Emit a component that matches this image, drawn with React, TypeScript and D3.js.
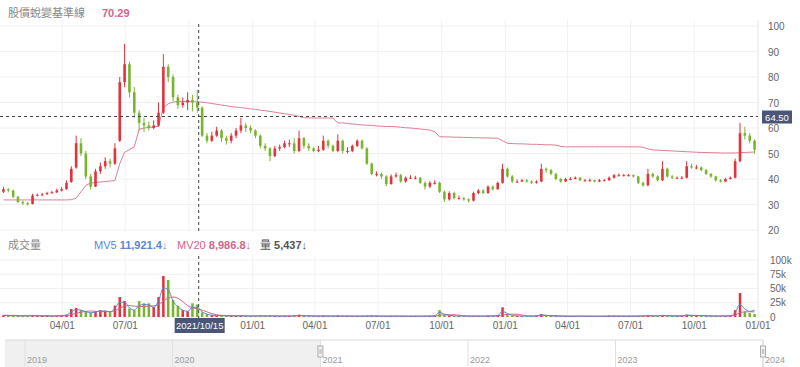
import React from 'react';
import * as d3 from 'd3';

// ---- data (weekly) ----
const weekStarts: Date[] = d3.timeMonday.range(new Date(2021, 0, 4), new Date(2023, 11, 26));

// [open, high, low, close]
const ohlc: [number, number, number, number][] = [
  [35,37,34.5,36],[36,36.5,34.8,35.5],[35.5,35.8,32.5,33],[33,33.4,30.6,31],[31,31.5,29.8,30.5],
  [30.5,31,29.6,30],[30.2,34.2,30,33.5],[33.5,34.3,33.2,33.8],[33.8,34.5,33.4,34],[34,35,33.8,34.5],
  [34.5,35.4,34.2,34.8],[34.8,36.2,34.5,35.5],[35.5,36.8,35.1,36],[36,39.5,35.8,38.5],[38.8,45,38.5,44],
  [44.5,57,44,54],[54,56,49,50],[50,51,40,41],[41,42,35.8,37],[37,44,36.8,43],
  [43,46.5,42,45],[45,48.5,44,47],[47,48,44.5,46],[46,54,45.5,52],[55,80,54.5,78],
  [78,93,76,85],[85,86,72,74],[74,76,64,66],[66,67,59,62],[62,64,58.5,61],
  [61,62.5,59,60],[60,63,59.5,61],[61,70,60.5,66],[66,89,65.5,84],[84,85,78,80],
  [80,81,70.5,72],[72,73,67.5,69],[69,72,68,70],[70,74,67,71],[71,73,66.5,70],
  [70,75,66,68],[68,68.5,56.5,57],[57,58,54,55],[55,58.5,54.5,57],[57,60.5,56.5,59],
  [59,59.5,54.5,56],[56,57,53.5,55],[55,58,54,57],[57,60,56,59],[59,64,58,61],
  [61,62,58.5,60],[60,61,58,59],[59,59.5,56,57],[57,57.5,52,53],[53,54,51,52],
  [52,52.5,47,49],[49,53,48.5,52],[52,53.5,51,52.5],[52.5,55,52,54],[54,55.5,52.5,54],
  [54,56,50,51],[51,59,50.5,56],[56,56.5,52,53],[53,54,51,52],[52,52.5,50.5,51],
  [51,53,50.5,51.5],[51.5,57,51,55],[55,55.5,52,53],[53,53.5,50.5,51],[51,57.5,50.5,55],
  [55,55.5,50,51],[51,52.5,50,51],[51,53.5,50.5,53],[53,55.5,52.5,55],[55,55.5,51.5,52],
  [52,52.5,45.5,46],[46,46.5,41.5,42],[42,43,41,42],[42,42.5,40,41],[41,41.5,37.2,38],
  [38,41.8,37.8,41],[41,42.5,40.5,41.5],[41.5,42,38.5,39],[39,41,38.5,40.5],[40.5,41.5,40,40.5],
  [40.5,41.2,39.8,40.5],[40.5,40.8,38,38.5],[38.5,39,35.8,37],[37,39.2,36.5,38.5],[38.5,39.5,37.8,38.5],
  [38.5,39,34.5,35],[35,35.5,31,32],[32,35.2,31.5,34.5],[34.5,35,32,32.5],[32.5,33.5,32,32.5],
  [32.5,33,31.5,32],[32,32.5,30.8,31.5],[31.5,35,31.2,34.5],[34.5,36,34,35.5],[35.5,36,34,34.5],
  [34.5,37.5,34.2,37],[37,37.5,35.5,36],[36,39,35.8,38.5],[38.5,46,38.2,44],[44,44.5,40.5,41],
  [41,41.5,38.5,39],[39,39.8,38.5,39],[39,40,38.8,39.5],[39.5,40,38.5,39],[39,39.5,38,38.5],
  [38.5,39.5,38.2,39],[39,46,38.8,44],[44,44.5,42.5,43.5],[43.5,44,41.5,42],[42,42.5,39.5,40],
  [40,40.5,38.5,39],[39,40.5,38.8,40],[40,40.8,39.5,40],[40,41,39.8,40.5],[40.5,40.8,39.2,39.5],
  [39.5,40,39,39.5],[39.5,40.2,39,39.5],[39.5,39.8,38.6,39],[39,40,38.8,39.5],[39.5,40,39.2,39.5],
  [39.5,41,39.3,40.5],[40.5,42,40.2,41.5],[41.5,42.2,41,41.5],[41.5,42,41,41.5],[41.5,42,41,41.5],
  [41.5,41.8,40.5,41],[41,41.2,38,38.5],[38.5,39,37,37.5],[37.5,44,37.2,42],[42,42.5,40.5,41],
  [41,41.5,39,39.5],[39.5,47,39.2,44],[44,44.5,40.5,41],[41,41.5,40,40.5],[40.5,41,40,40.5],
  [40.5,41.2,40,40.5],[40.5,47,40.2,45],[45,46,44,44.5],[44.5,45.5,43.8,44.5],[44.5,45,43,43.5],
  [43.5,44,41.5,42],[42,42.3,40.5,41],[41,41.3,39,39.5],[39.5,40,38.6,39],[39,40.5,38.8,40],
  [40,41,39.8,40.5],[40.5,48,40.2,47],[47,62,46.5,58],[58,60.5,55.5,57],[57,58,54,55],
  [55,55.5,50,51.5],
];

// 股價蛻變基準線
const baseline: number[] = [
  31.8,31.8,31.8,31.8,31.8,31.8,31.8,31.8,31.8,31.8,31.8,31.8,31.8,31.8,31.9,
  32.5,35,37.5,38.4,38.6,38.8,39,39.2,39.4,46,50.5,51.5,52.6,59.5,60,
  60.2,60.4,60.7,68,69.5,70.2,70.4,70.4,70.4,70.3,70.3,70.1,69.9,69.6,69.3,
  69,68.7,68.4,68.2,68,67.8,67.5,67.3,67,66.8,66.5,66.2,65.9,65.6,65.3,
  65,64.5,64,64,63.9,63.9,63.9,63.9,63.9,62,62,61.8,61.6,61.4,61.2,
  61.1,61,60.8,60.7,60.6,60.6,60.5,60.3,60.1,60,59.8,59.6,59.4,59.2,58.5,
  56.6,56.5,56.5,56.4,56.4,56.3,56.3,56.2,56.2,56.1,56.1,56,56,55,54,
  53.9,53.8,53.8,53.7,53.6,53.6,53.5,53.4,53.4,53.3,52.8,52.6,52.6,52.6,52.6,
  52.6,52.6,52.6,52.6,52.6,52.6,52.6,52.6,52.6,52.6,52.6,52.6,52.5,51.8,51.4,
  51.3,51.2,51.1,51,50.9,50.8,50.7,50.6,50.5,50.4,50.4,50.3,50.3,50.2,50.2,
  50.2,50.2,50.3,50.4,50.5,50.6,
];

// volume (thousand shares)
const volume: number[] = [
  3,2.5,2,2,1.5,2,3,2,2,2,1.5,2,2.5,4,
  14,16,12,9,7,10,12,11,9,20,35,28,15,12,28,24,24,18,35,72,65,30,20,12,10,24,22,8,5,3,2.5,
  2.2,2,2,1.8,2,1.8,1.7,1.8,2,1.7,2,1.8,1.6,1.7,1.8,
  2.5,4,2,
  1.8,1.6,1.5,2,1.6,1.5,2.2,1.5,1.7,1.5,1.4,1.6,2,2.2,1.7,1.5,1.4,1.7,1.4,1.6,1.4,1.5,1.7,1.4,1.6,1.8,
  3,12,4,2.5,1.8,1.6,1.5,1.4,1.8,1.7,1.5,2,2.2,3,17,5,2.5,1.8,1.6,1.5,1.4,2.2,5,2.5,1.8,
  1.5,1.4,1.6,1.3,1.4,1.5,1.3,1.4,1.5,1.3,1.6,
  2.2,1.6,1.5,1.4,1.6,1.5,1.8,1.9,
  3,1.8,1.7,3.5,2,1.7,1.6,1.9,4,2.8,2.2,2,1.8,1.7,1.6,1.7,1.9,2.2,12,42,10,7,5.4,
];

const mv5: number[] = [
  3,2.6,2.2,2,1.7,1.9,2.6,2.2,2,2,1.7,1.9,2.3,3.5,
  9,13,12,9.5,7.5,8.5,10.5,10.5,9,15,26,26,16,12,20,22,21,17,28,51,48,28,18,12,10,17,17,9,5,3.2,2.6,
  2.2,2,2,1.8,2,1.8,1.7,1.8,2,1.7,2,1.8,1.6,1.7,1.8,
  2,3,2.2,
  1.8,1.7,1.6,1.8,1.7,1.6,1.8,1.6,1.7,1.6,1.5,1.6,1.8,2,1.8,1.6,1.5,1.6,1.5,1.6,1.5,1.5,1.6,1.5,1.6,1.7,
  2,8,5,3,2,1.8,1.6,1.5,1.6,1.7,1.6,1.8,2,2.5,10,6,3,2,1.7,1.6,1.5,2,4,3,2,
  1.6,1.5,1.5,1.4,1.4,1.5,1.4,1.4,1.5,1.4,1.5,
  1.8,1.7,1.6,1.5,1.5,1.6,1.7,1.8,
  2.5,2,1.8,3,2.2,1.8,1.7,1.8,3.5,3,2.5,2.2,2,1.8,1.7,1.7,1.8,2,8,22,14,10,11.9,
];

const mv20: number[] = [
  3,2.9,2.8,2.6,2.4,2.2,2.2,2.2,2.2,2.1,2,2,2,2.3,
  4,6.5,8.5,10,10.5,10,9.5,9.5,9.5,11,15,19,20,19,18.5,18.5,19,19.5,22,28,33,35,33,27,20,16,14.5,12,9,6,4,
  3,2.6,2.4,2.3,2.2,2.1,2,2,1.9,1.9,1.9,1.9,1.8,1.8,1.8,
  1.9,2.1,2.2,
  2.1,2,1.9,1.8,1.8,1.7,1.7,1.7,1.7,1.6,1.6,1.6,1.7,1.7,1.7,1.7,1.6,1.6,1.6,1.6,1.5,1.5,1.5,1.5,1.6,1.6,
  1.7,3,3.8,4,4,3.2,2.4,1.9,1.7,1.6,1.6,1.7,1.7,1.9,3.5,4.8,5,4.8,3.5,2.2,1.8,1.8,2.3,2.6,2.7,
  2.5,2,1.7,1.6,1.5,1.5,1.5,1.5,1.4,1.4,1.4,
  1.5,1.6,1.6,1.6,1.6,1.6,1.6,1.7,
  1.9,2,2,2.2,2.3,2.2,2,1.9,2.3,2.6,2.7,2.6,2.4,2.1,1.9,1.8,1.8,1.9,3.5,7.5,9,9.2,9,
];

const priceTicks = [20, 30, 40, 50, 60, 70, 80, 90, 100];
const volTicks = [0, 25, 50, 75, 100];
const volTickLabels = ['0', '25k', '50k', '75k', '100k'];
const navYears = [2019, 2020, 2021, 2022, 2023, 2024];

const crossDate = new Date(2021, 9, 15);
const crossPrice = 64.5;
const legendTitle = '股價蛻變基準線';
const legendValue = '70.29';

const RED = '#e2333d';
const GREEN = '#78b52e';
const PINK = '#de7d94';
const MV5C = '#5a86d8';
const MV20C = '#d3648d';
const FONT = '"Liberation Sans", Arial, "Noto Sans CJK TC", sans-serif';
const CJK = '"Noto Sans CJK TC", "Liberation Sans", sans-serif';

export default function App() {
  const plotR = 758;
  const x = d3.scaleTime().domain([new Date(2021, 0, 1), new Date(2024, 0, 1)]).range([0, plotR]);
  const y = d3.scaleLinear().domain([20, 100]).range([230, 26]);
  const yv = d3.scaleLinear().domain([0, 100]).range([317, 260]);
  const nav = d3.scaleTime().domain([new Date(2019, 0, 1), new Date(2024, 0, 1)]).range([25, 763]);

  const cx = (i: number) => x(d3.timeDay.offset(weekStarts[i], 2));
  const bodyW = 2.6;

  const baseLine = d3.line<number>().x((_, i) => cx(i)).y(d => y(d));
  const volLine = d3.line<number>().x((_, i) => cx(i)).y(d => yv(d)).curve(d3.curveMonotoneX);

  const monthTicks = d3.timeMonth.every(3)!.range(new Date(2021, 3, 1), new Date(2024, 0, 2));
  const fmt = d3.timeFormat('%m/%d');
  const crossX = x(crossDate);
  const crossY = y(crossPrice);

  return (
    <svg width={800} height={367} style={{ position: 'absolute', left: 0, top: 0, background: '#fff' }}
      fontFamily={FONT}>
      {/* grid */}
      {priceTicks.map(t => (
        <line key={'pg' + t} x1={0} x2={plotR} y1={y(t)} y2={y(t)} stroke="#f0f0f0" />
      ))}
      {volTicks.map(t => (
        <line key={'vg' + t} x1={0} x2={plotR} y1={yv(t)} y2={yv(t)} stroke="#f0f0f0" />
      ))}
      {monthTicks.map(d => (
        <g key={'mg' + d.getTime()}>
          <line x1={x(d)} x2={x(d)} y1={20} y2={232} stroke="#f2f2f2" />
          <line x1={x(d)} x2={x(d)} y1={255} y2={317} stroke="#f2f2f2" />
        </g>
      ))}
      <line x1={plotR} x2={plotR} y1={20} y2={318} stroke="#ececec" />

      {/* right axis labels */}
      {priceTicks.map(t => (
        <text key={'pt' + t} x={768} y={y(t) + 4} fontSize={10} fill="#666">{t}</text>
      ))}
      {volTicks.map((t, i) => (
        <text key={'vt' + t} x={770} y={yv(t) + 3.5} fontSize={10} fill="#666">{volTickLabels[i]}</text>
      ))}

      {/* legends */}
      <text x={8} y={17} fontSize={11} fill="#888" fontFamily={CJK}>{legendTitle}</text>
      <text x={102} y={17} fontSize={11} fill={MV20C} fontWeight="bold">{legendValue}</text>
      <text x={8} y={249} fontSize={11} fill="#888" fontFamily={CJK}>成交量</text>
      <text x={94} y={249} fontSize={11} fill={MV5C}>MV5 <tspan fontWeight="bold">11,921.4</tspan>↓</text>
      <text x={177} y={249} fontSize={11} fill={MV20C}>MV20 <tspan fontWeight="bold">8,986.8</tspan>↓</text>
      <text x={260} y={249} fontSize={11} fill="#555"><tspan fontFamily={CJK}>量</tspan> <tspan fontWeight="bold">5,437</tspan>↓</text>

      {/* baseline */}
      <path d={baseLine(baseline) || ''} fill="none" stroke={PINK} strokeWidth={1} />

      {/* candles */}
      {ohlc.map((d, i) => {
        const [o, h, l, c] = d;
        const col = c >= o ? RED : GREEN;
        const xc = cx(i);
        const top = y(Math.max(o, c));
        const bh = Math.max(1, Math.abs(y(o) - y(c)));
        return (
          <g key={'c' + i}>
            <line x1={xc} x2={xc} y1={y(h)} y2={y(l)} stroke={col} strokeWidth={1} />
            <rect x={xc - bodyW / 2} y={top} width={bodyW} height={bh} fill={col} />
          </g>
        );
      })}

      {/* volume bars */}
      {volume.map((v, i) => {
        const [o, , , c] = ohlc[i];
        const col = c >= o ? RED : GREEN;
        return <rect key={'v' + i} x={cx(i) - 1.25} y={yv(v)} width={2.5} height={yv(0) - yv(v)} fill={col} />;
      })}
      <path d={volLine(mv20) || ''} fill="none" stroke={MV20C} strokeWidth={1} />
      <path d={volLine(mv5) || ''} fill="none" stroke={MV5C} strokeWidth={1} />

      {/* crosshair */}
      <line x1={crossX} x2={crossX} y1={24} y2={232} stroke="#444" strokeDasharray="3,3" />
      <line x1={crossX} x2={crossX} y1={256} y2={318} stroke="#444" strokeDasharray="3,3" />
      <line x1={0} x2={plotR} y1={crossY} y2={crossY} stroke="#444" strokeDasharray="3,3" />
      <rect x={762} y={crossY - 6} width={30} height={13} fill="#4b5577" />
      <text x={777} y={crossY + 4} fontSize={9.5} fill="#fff" textAnchor="middle">{crossPrice.toFixed(2)}</text>

      {/* x axis labels */}
      {monthTicks.filter(d => Math.abs(x(d) - crossX) > 30).map(d => (
        <text key={'xl' + d.getTime()} x={x(d)} y={329} fontSize={10} fill="#666" textAnchor="middle">{fmt(d)}</text>
      ))}
      <rect x={crossX - 24} y={318} width={50} height={15} fill="#4b5577" />
      <text x={crossX + 1} y={329} fontSize={9.5} fill="#fff" textAnchor="middle">{d3.timeFormat('%Y/%m/%d')(crossDate)}</text>

      {/* navigator */}
      <rect x={5} y={340} width={nav(new Date(2021, 0, 1)) - 5} height={27} fill="#f0f0f0" />
      <line x1={5} x2={763} y1={340} y2={340} stroke="#d8d8d8" />
      <line x1={763} x2={763} y1={340} y2={367} stroke="#d8d8d8" />
      {navYears.map(yr => (
        <g key={'ny' + yr}>
          <line x1={nav(new Date(yr, 0, 1))} x2={nav(new Date(yr, 0, 1))} y1={340} y2={367} stroke="#e0e0e0" />
          <text x={nav(new Date(yr, 0, 1)) + 2} y={363} fontSize={9} fill="#999">{yr}</text>
        </g>
      ))}
      {[new Date(2021, 0, 1), new Date(2024, 0, 1)].map((d, i) => (
        <g key={'h' + i}>
          <rect x={nav(d) - 2.5} y={346} width={5} height={11} fill="#f4f4f4" stroke="#999" strokeWidth={0.8} />
          <line x1={nav(d) - 0.5} x2={nav(d) - 0.5} y1={349} y2={354} stroke="#999" strokeWidth={0.6} />
          <line x1={nav(d) + 0.7} x2={nav(d) + 0.7} y1={349} y2={354} stroke="#999" strokeWidth={0.6} />
        </g>
      ))}
    </svg>
  );
}
